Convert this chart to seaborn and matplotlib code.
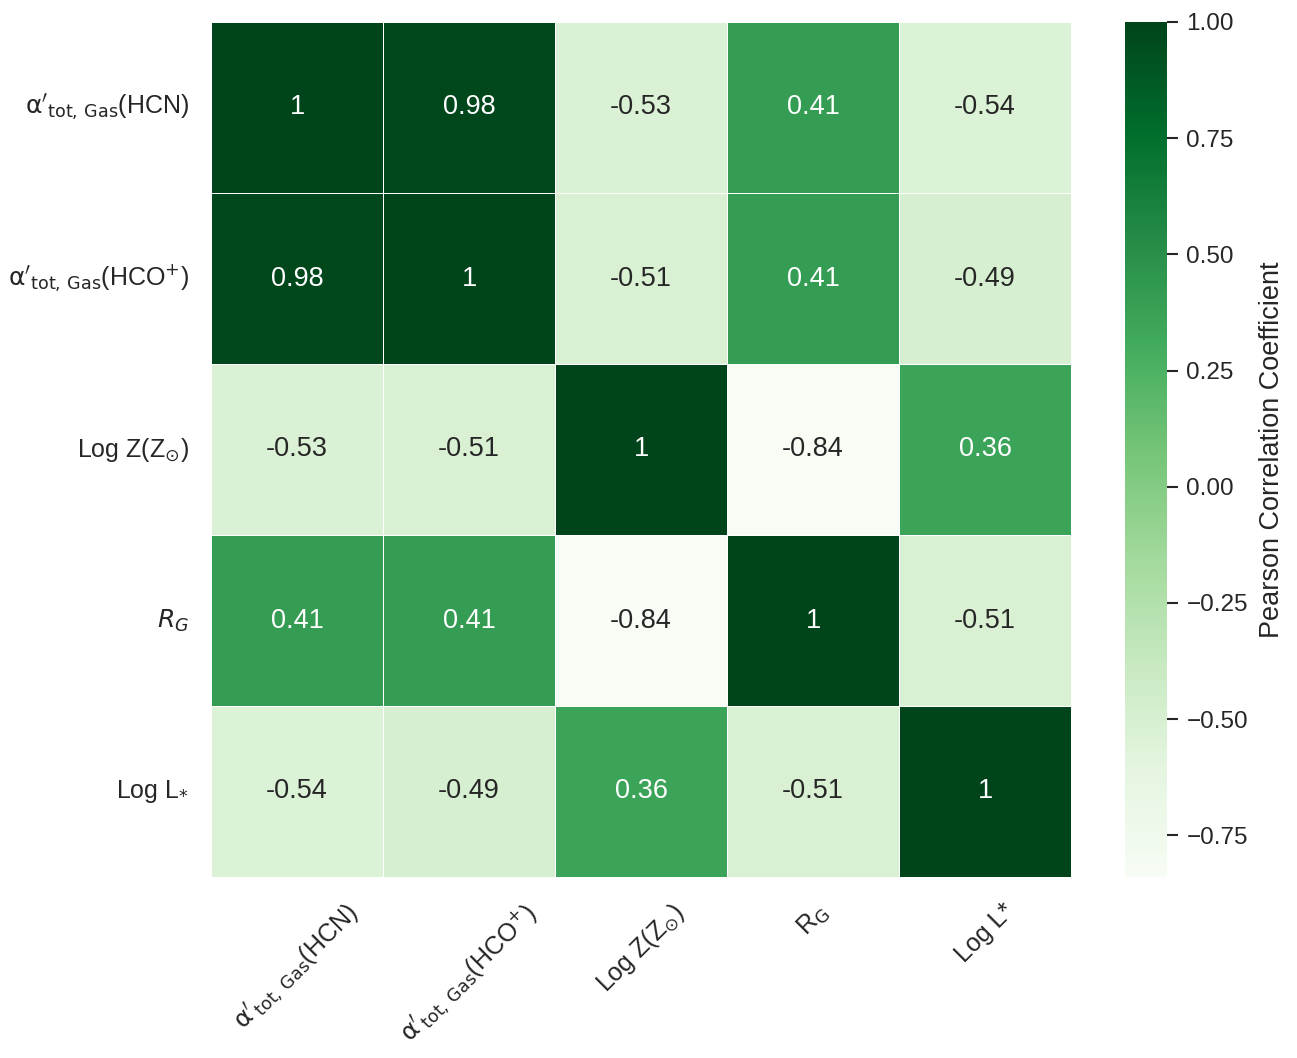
import numpy as np
import pandas as pd
import matplotlib
matplotlib.use("Agg")
import matplotlib.pyplot as plt
import seaborn as sns

# correlation matrix values
row_labels = [r"$\mathrm{\alpha}'_{\mathrm{tot,\,Gas}}$(HCN)",
              r"$\mathrm{\alpha}'_{\mathrm{tot,\,Gas}}$(HCO$^{+}$)",
              r"Log Z(Z$_{\odot}$)",
              r"$R_G$",
              r"Log L$_{*}$"]
col_labels = [r"$\mathrm{\alpha}'_{\mathrm{tot,\,Gas}}$(HCN)",
              r"$\mathrm{\alpha}'_{\mathrm{tot,\,Gas}}$(HCO$^{+}$)",
              r"Log Z(Z$_{\odot}$)",
              r"R$_\mathrm{G}$",
              "Log L*"]
row_hcn = [1.00, 0.98, -0.53, 0.41, -0.54]
row_hco = [0.98, 1.00, -0.51, 0.41, -0.49]
row_logz = [-0.53, -0.51, 1.00, -0.84, 0.36]
row_rg = [0.41, 0.41, -0.84, 1.00, -0.51]
row_logl = [-0.54, -0.49, 0.36, -0.51, 1.00]

corr = pd.DataFrame([row_hcn, row_hco, row_logz, row_rg, row_logl],
                    index=row_labels, columns=col_labels)

sns.set_theme(style="white")
plt.rcParams["font.family"] = ["Liberation Sans", "DejaVu Sans"]
plt.rcParams["mathtext.fontset"] = "dejavusans"

fig = plt.figure(figsize=(12.97, 10.58), dpi=100)
ax = fig.add_axes([211 / 1297, 181 / 1058, 860 / 1297, 855 / 1058])
cax = fig.add_axes([1125 / 1297, 181 / 1058, 42 / 1297, 855 / 1058])

sns.heatmap(corr, ax=ax, cbar_ax=cax, cmap="Greens", annot=True,
            annot_kws={"fontsize": 19.5}, linewidths=0.7, linecolor="white",
            cbar_kws={"label": "Pearson Correlation Coefficient"})

ax.tick_params(axis="both", length=0, labelsize=18, pad=16, colors=".15")
ax.set_xticklabels(ax.get_xticklabels(), rotation=45, ha="center",
                   rotation_mode="default")
ax.set_yticklabels(ax.get_yticklabels(), rotation=0)

cax.tick_params(axis="y", length=8, width=1.5, labelsize=17.5, pad=6, colors=".15")
cax.set_yticks([-0.75, -0.5, -0.25, 0.0, 0.25, 0.5, 0.75, 1.0])
cax.set_ylabel("Pearson Correlation Coefficient", fontsize=19.5,
               color=".15", labelpad=8)

fig.savefig("out.png", dpi=100)
plt.close(fig)
